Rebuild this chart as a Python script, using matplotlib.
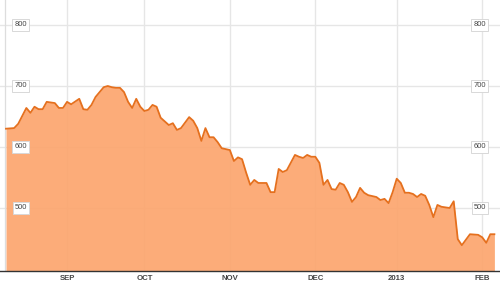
import matplotlib
matplotlib.use("Agg")
import matplotlib.pyplot as plt

# trading-day index (0 = first session shown) and closing price
day_idx = [0, 2, 3, 5, 6, 7, 8, 9, 10, 12, 13, 14, 15, 16, 18, 19, 20, 21, 22, 24,
           25, 26, 27, 28, 29, 30, 31, 32, 33, 34, 35, 36, 37, 38, 40, 41, 42, 43, 45, 46,
           47, 48, 49, 50, 51, 52, 53, 55, 56, 57, 58, 59, 60, 61, 62, 64, 65, 66, 67, 68,
           69, 71, 72, 73, 74, 75, 76, 77, 78, 79, 80, 81, 82, 83, 84, 85, 86, 87, 88, 89,
           91, 92, 93, 94, 95, 96, 97, 98, 99, 100, 101, 102, 103, 104, 105, 106, 107, 109, 110, 111,
           112, 114, 116, 117, 118, 119, 120]
price = [630, 631, 638, 664, 656, 666, 662, 662, 674, 672, 664, 664, 674, 670, 679, 662, 661, 669, 682, 698,
         700, 698, 697, 697, 690, 674, 664, 679, 666, 659, 661, 669, 666, 648, 636, 639, 628, 631, 649, 643,
         631, 610, 631, 616, 616, 608, 598, 595, 577, 583, 580, 558, 538, 546, 541, 541, 526, 526, 564, 559,
         562, 587, 584, 582, 587, 584, 584, 574, 538, 546, 531, 530, 541, 538, 526, 510, 518, 533, 525, 521,
         518, 513, 515, 508, 526, 548, 541, 525, 525, 523, 518, 523, 520, 505, 485, 505, 502, 500, 511, 449,
         439, 457, 456, 452, 443, 457, 457]

month_idx = [15, 34, 55, 76, 96, 117]
month_labels = ["SEP", "OCT", "NOV", "DEC", "2013", "FEB"]
y_ticks = [500, 600, 700, 800]

W, H = 500, 285
fig = plt.figure(figsize=(W / 100, H / 100), dpi=100)
ax = fig.add_axes([0, 14 / H, 1, 271 / H])

px_per_day = 4.07
x0_px = 6
ax.set_xlim(-x0_px / px_per_day, (W - x0_px) / px_per_day)
ax.set_ylim(500 - 63 / 0.61, 500 + 208 / 0.61)

grid_c = "#e6e6e6"
for v in y_ticks:
    ax.axhline(v, color=grid_c, lw=1.0, zorder=1)
for m in month_idx:
    ax.axvline(m, color=grid_c, lw=1.0, zorder=1)
ax.axvline(-0.25, color="#dddddd", lw=0.9, zorder=1)

base = ax.get_ylim()[0]
ax.fill_between(day_idx, price, base, color="#fca66f", alpha=0.93, lw=0, zorder=2)
ax.plot(day_idx, price, color="#e5701e", lw=1.3, zorder=3, solid_joinstyle="round")

for s in ["top", "left", "right"]:
    ax.spines[s].set_visible(False)
ax.spines["bottom"].set_color("#333333")
ax.spines["bottom"].set_linewidth(1.0)
ax.spines["bottom"].set_zorder(5)
ax.set_yticks([])
ax.set_xticks(month_idx)
ax.set_xticklabels(month_labels, fontsize=5.6, color="#444444", fontweight="bold",
                   family="Liberation Sans")
ax.tick_params(axis="x", length=0, pad=3)

box = dict(boxstyle="square,pad=0.3", fc="white", ec="#d8d8d8", lw=0.7)
left_x = (21 - x0_px) / px_per_day
right_x = (480 - x0_px) / px_per_day
for v in y_ticks:
    for xx in (left_x, right_x):
        ax.text(xx, v, str(v), fontsize=5.4, color="#444444", ha="center", va="center",
                family="Liberation Sans", bbox=box, zorder=6)

fig.savefig("out.png", dpi=100)
